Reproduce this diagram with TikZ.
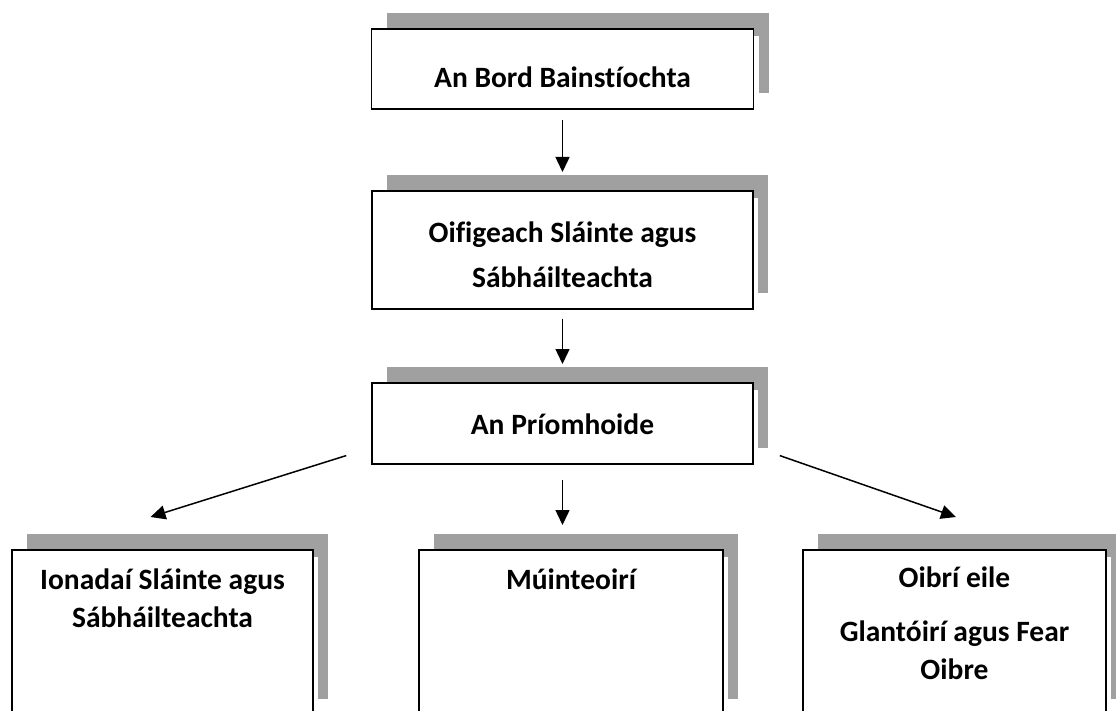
\documentclass[tikz,border=0pt]{standalone}
\usepackage{fontspec}
\setmainfont{Carlito}[Ligatures={NoCommon}]
\usetikzlibrary{calc, positioning, arrows.meta, shadows}
\definecolor{shadowgray}{RGB}{160,160,160}
\tikzset{
  box/.style={draw, line width=1.6pt, fill=white, anchor=north, align=center,
    inner xsep=0pt, inner ysep=0pt,
    font=\fontsize{29.5}{38}\selectfont\bfseries,
    copy shadow={shadow xshift=15pt, shadow yshift=16pt, fill=shadowgray, draw=none},
    copy shadow={shadow xshift=5pt, shadow yshift=-7pt, fill=white, draw=none}},
  arr/.style={line width=1.5pt, -{Triangle[length=15pt, width=14pt]}}
}

\begin{document}
\begin{tikzpicture}[x=1pt, y=-1pt]
\clip (0,0) rectangle (1116,711);
% Top of the chart
\node[box, minimum width=382pt, text height=59pt, text depth=21pt] (bord) at (562.5,28) {An Bord Bainstíochta};
\node[box, minimum width=381pt, text height=97pt, text depth=21pt] (oifig) at (562.5,190) {Oifigeach Sláinte agus\\[7pt]Sábháilteachta};
\node[box, minimum width=381pt, text height=52pt, text depth=29pt] (prio) at (562.5,382) {An Príomhoide};
% Bottom row
\node[box, minimum width=301pt, text height=78pt, text depth=87pt] (ionadai) at (162.5,549) {Ionadaí Sláinte agus\\Sábháilteachta};
\node[box, minimum width=304pt, text height=40pt, text depth=125pt] (muint) at (571,549) {Múinteoirí};
\node[box, minimum width=303pt, text height=130pt, text depth=35pt] (oibri) at (954.5,549) {Oibrí eile\\[16pt]Glantóirí agus Fear\\Oibre};
% Arrow ends
\coordinate (leftstart) at ([xshift=-25pt, yshift=9pt]prio.south west);
\coordinate (lefttip) at ([xshift=-12pt, yshift=32pt]ionadai.north);
\coordinate (midtip) at ([xshift=-8.5pt, yshift=24pt]muint.north);
\coordinate (rightstart) at ([xshift=26pt, yshift=9pt]prio.south east);
\coordinate (righttip) at ([xshift=1.5pt, yshift=32pt]oibri.north);
% Arrows
\draw[arr] ([yshift=-10pt]bord.south) -- ([yshift=18pt]oifig.north);
\draw[arr] ([yshift=-9pt]oifig.south) -- ([yshift=18pt]prio.north);
\draw[arr] (leftstart) -- (lefttip);
\draw[arr] ([yshift=-15pt]prio.south) -- (midtip);
\draw[arr] (rightstart) -- (righttip);
\end{tikzpicture}
\end{document}
